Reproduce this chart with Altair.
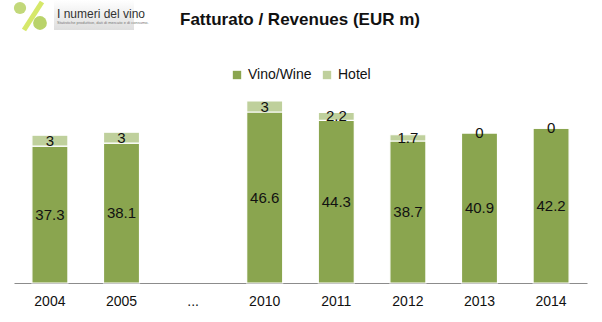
import altair as alt
import pandas as pd

# ---- data ----
years = ["2004", "2005", "2010", "2011", "2012", "2013", "2014"]
wine = [37.3, 38.1, 46.6, 44.3, 38.7, 40.9, 42.2]
hotel = [3, 3, 3, 2.2, 1.7, 0, 0]
x_domain = ["2004", "2005", "...", "2010", "2011", "2012", "2013", "2014"]
series = ["Vino/Wine", "Hotel"]
colors = ["#8AA54F", "#BFD09C"]
title_text = "Fatturato / Revenues (EUR m)"

rows = []
for y, w, h in zip(years, wine, hotel):
    rows.append({"year": y, "series": "Vino/Wine", "low": 0, "high": w, "mid": w / 2, "label": f"{w:g}"})
    rows.append({"year": y, "series": "Hotel", "low": w, "high": w + h, "mid": w + h / 2, "label": f"{h:g}"})
df = pd.DataFrame(rows)

W, H = 573, 193
xs = alt.X("year:N", scale=alt.Scale(domain=x_domain, paddingInner=0.497, paddingOuter=0.25),
           sort=x_domain,
           axis=alt.Axis(title=None, labelAngle=0, ticks=False, domainColor="#8c8c8c",
                         domainWidth=1.2, labelFontSize=14, labelColor="#111111",
                         labelFont="Liberation Sans", labelPadding=11))
yscale = alt.Scale(domain=[0, 52.6], nice=False, zero=True)

bars = alt.Chart(df).mark_bar(stroke="white", strokeWidth=1.2).encode(
    x=xs,
    y=alt.Y("low:Q", scale=yscale, axis=None),
    y2="high:Q",
    color=alt.Color("series:N", scale=alt.Scale(domain=series, range=colors),
                    legend=alt.Legend(title=None, orient="none", direction="horizontal",
                                      legendX=216, legendY=-22, symbolType="square",
                                      symbolSize=70, symbolStrokeWidth=0,
                                      labelFontSize=14, labelFont="Liberation Sans",
                                      labelColor="#111111", columnPadding=8)),
)

labels = alt.Chart(df).mark_text(fontSize=15, font="Liberation Sans", color="#111111",
                                 baseline="middle").encode(
    x=xs,
    y=alt.Y("mid:Q", scale=yscale, axis=None),
    text="label:N",
)

# ---- title and logo decoration ----
title = alt.Chart(pd.DataFrame({"t": [title_text]})).mark_text(
    fontSize=17, font="Liberation Sans", fontWeight="bold", color="#111111",
    baseline="middle", align="center").encode(
    x=alt.value(286), y=alt.value(-70), text="t:N")

logo_df = pd.DataFrame({"t": ["I numeri del vino"]})
logo_bg = alt.Chart(logo_df).mark_rect(
    color=alt.Gradient(gradient="linear", x1=0, y1=0, x2=0, y2=1,
                       stops=[alt.GradientStop(color="#ffffff", offset=0),
                              alt.GradientStop(color="#dedede", offset=1)])
).encode(x=alt.value(40), x2=alt.value(120), y=alt.value(-90), y2=alt.value(-60))
logo_stick = alt.Chart(logo_df).mark_rule(color="#d6e86a", strokeWidth=5).encode(
    x=alt.value(28), x2=alt.value(10), y=alt.value(-88), y2=alt.value(-60))
logo_g1 = alt.Chart(logo_df).mark_circle(color="#c2d87a", opacity=1, size=150).encode(
    x=alt.value(6), y=alt.value(-82))
logo_g2 = alt.Chart(logo_df).mark_circle(color="#b9d36a", opacity=1, size=190).encode(
    x=alt.value(26), y=alt.value(-67))
logo_t1 = alt.Chart(logo_df).mark_text(align="left", fontSize=12, font="Liberation Sans",
                                       color="#333333", fontWeight=500).encode(
    x=alt.value(43), y=alt.value(-76), text="t:N")
logo_t2 = alt.Chart(pd.DataFrame({"t": ["Statistiche produttive, dati di mercato e di consumo."]})).mark_text(
    align="left", fontSize=4, font="Liberation Sans", color="#777777").encode(
    x=alt.value(43), y=alt.value(-67), text="t:N")

chart = alt.layer(logo_bg, logo_stick, logo_g1, logo_g2, logo_t1, logo_t2, title, bars, labels).properties(
    width=W, height=H,
    background="white",
    padding={"left": 14, "top": 90, "right": 15, "bottom": 39},
    autosize=alt.AutoSizeParams(type="none"),
).configure_view(stroke=None)

chart.save("out.html", embed_options={"renderer": "svg", "actions": False})
